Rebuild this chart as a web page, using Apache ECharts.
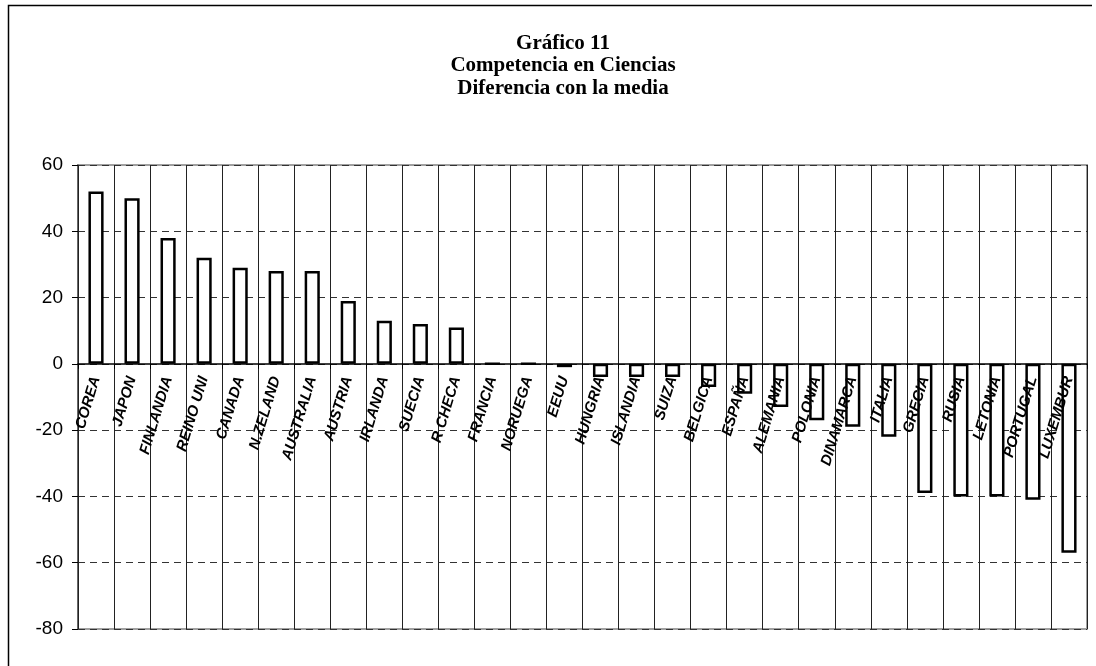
<!DOCTYPE html>
<html>
<head>
<meta charset="utf-8">
<title>Gráfico 11</title>
<script src="https://cdn.jsdelivr.net/npm/echarts@6/dist/echarts.min.js"></script>
<style>
  html, body { margin: 0; padding: 0; background: #fff; }
  #chart { width: 1096px; height: 666px; }
</style>
</head>
<body>
<div id="chart"></div>
<script>
// ---- datos del gráfico ----
const countries = [
  'COREA', 'JAPON', 'FINLANDIA', 'REINO UNI', 'CANADA', 'N.ZELAND', 'AUSTRALIA',
  'AUSTRIA', 'IRLANDA', 'SUECIA', 'R CHECA', 'FRANCIA', 'NORUEGA', 'EEUU',
  'HUNGRIA', 'ISLANDIA', 'SUIZA', 'BELGICA', 'ESPAÑA', 'ALEMANIA', 'POLONIA',
  'DINAMARCA', 'ITALIA', 'GRECIA', 'RUSIA', 'LETONIA', 'PORTUGAL', 'LUXEMBUR'
]
const diffFromMean = [
  52, 50, 38, 32, 29, 28, 28,
  19, 13, 12, 11, 0, 0, -1,
  -4, -4, -4, -7, -9, -13, -17,
  -19, -22, -39, -40, -40, -41, -57
]
const titleLines = ['Gráfico 11', 'Competencia en Ciencias', 'Diferencia con la media']
const yMin = -80
const yMax = 60
const yStep = 20

// ---- geometría del área de trazado ----
const GRID = { left: 78, right: 9, top: 165, bottom: 37 }
const CHART_H = 666
const plotH = CHART_H - GRID.top - GRID.bottom
// el eje de categorías se dibuja sobre la línea del cero
const zeroOffset = -plotH * (0 - yMin) / (yMax - yMin)

const chart = echarts.init(document.getElementById('chart'))

chart.setOption({
  backgroundColor: '#fff',
  animation: false,
  title: {
    text: titleLines.join('\n'),
    left: 558,
    top: 27,
    textAlign: 'center',
    textStyle: {
      fontFamily: '"Liberation Serif", "Times New Roman", serif',
      fontWeight: 'bold',
      fontSize: 21,
      lineHeight: 22.5,
      color: '#000'
    }
  },
  // marco exterior del gráfico
  graphic: [
    {
      type: 'polyline',
      shape: { points: [[8.5, 666], [8.5, 5.5], [1092, 5.5]] },
      style: { stroke: '#000', lineWidth: 1.5, fill: null },
      silent: true
    }
  ],
  grid: {
    ...GRID,
    outerBoundsMode: 'none',
    containLabel: false,
    show: true,
    borderColor: '#a0a0a0',
    borderWidth: 2,
    backgroundColor: '#fff'
  },
  xAxis: {
    type: 'category',
    data: countries,
    offset: zeroOffset,
    z: 5, // etiquetas por encima de las barras
    axisLine: { onZero: false, lineStyle: { color: '#000', width: 1.5 } },
    axisTick: { show: true, length: 5, lineStyle: { color: '#000' } },
    splitLine: { show: true, lineStyle: { color: '#222', width: 1 } },
    axisLabel: {
      interval: 0,
      rotate: 73,
      margin: 13,
      fontFamily: 'Arial, "Liberation Sans", sans-serif',
      fontStyle: 'italic',
      fontWeight: 'bold',
      fontSize: 15,
      color: '#000'
    }
  },
  yAxis: {
    type: 'value',
    min: yMin,
    max: yMax,
    interval: yStep,
    axisLine: { show: true, lineStyle: { color: '#555', width: 1.5 } },
    axisTick: { show: true, length: 6, lineStyle: { color: '#000' } },
    splitLine: {
      show: true,
      lineStyle: { color: '#333', width: 1, type: [7, 5] }
    },
    axisLabel: {
      margin: 15,
      fontFamily: 'Arial, "Liberation Sans", sans-serif',
      fontSize: 19,
      color: '#000'
    }
  },
  series: [
    {
      type: 'bar',
      data: diffFromMean,
      barWidth: '42%',
      itemStyle: { color: '#fff', borderColor: '#000', borderWidth: 2.5 }
    }
  ]
})
</script>
</body>
</html>
